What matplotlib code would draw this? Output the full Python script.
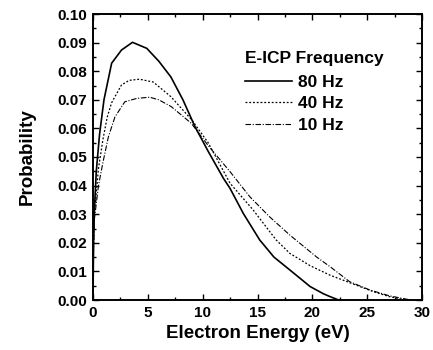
import matplotlib
matplotlib.use("Agg")
import matplotlib.pyplot as plt
from matplotlib.ticker import MultipleLocator, FormatStrFormatter

plt.rcParams['font.family'] = ['Liberation Sans', 'DejaVu Sans']

# Data
x_80 = [0, 0.05, 0.12, 0.3, 0.6, 1.0, 1.7, 2.6, 3.6, 4.9, 6.0, 7.1, 8.2, 9.3,
        10.5, 11.9, 12.5, 13.7, 15.2, 16.5, 17.95, 19.8, 21.0, 21.6, 22.4]
y_80 = [0, 0.020, 0.031, 0.045, 0.058, 0.070, 0.0828, 0.0874, 0.0901, 0.0880,
        0.0835, 0.0780, 0.0700, 0.0606, 0.0520, 0.0425, 0.0390, 0.0303, 0.0210,
        0.0150, 0.0105, 0.0047, 0.0022, 0.0012, 0.0]

x_40 = [0, 0.05, 0.12, 0.5, 0.9, 1.3, 1.7, 2.6, 3.3, 4.25, 5.5, 7.1, 9.0, 10.5,
        12.5, 14.6, 16.7, 17.95, 19.8, 21.6, 24.0, 25.5, 27.0, 28.0, 28.7]
y_40 = [0, 0.020, 0.030, 0.046, 0.056, 0.064, 0.069, 0.0752, 0.0768, 0.0772,
        0.0762, 0.0711, 0.0630, 0.0550, 0.0408, 0.0315, 0.0210, 0.0163, 0.0120,
        0.0087, 0.0052, 0.0030, 0.0012, 0.0004, 0.0]

x_10 = [0, 0.05, 0.12, 0.5, 0.9, 1.4, 2.0, 2.9, 4.0, 5.17, 6.0, 7.14, 8.96,
        10.5, 12.49, 14.3, 16.1, 17.95, 20.4, 21.6, 23.4, 25.25, 27.0, 28.3, 29.0]
y_10 = [0, 0.018, 0.028, 0.040, 0.048, 0.057, 0.064, 0.0693, 0.0705, 0.0709,
        0.0700, 0.0676, 0.0618, 0.0540, 0.0449, 0.0361, 0.0291, 0.0227, 0.0150,
        0.0117, 0.0064, 0.0035, 0.0015, 0.0005, 0.0]

labels = ['80 Hz', '40 Hz', '10 Hz']
legend_title = 'E-ICP Frequency'
x_label = 'Electron Energy (eV)'
y_label = 'Probability'

fig = plt.figure(figsize=(4.33, 3.5), dpi=100)
ax = fig.add_axes([93/433, 1 - 300/350, (422 - 93)/433, (300 - 14)/350])

ax.plot(x_80, y_80, color='black', lw=1.2, ls='-', label=labels[0])
ax.plot(x_40, y_40, color='black', lw=0.9, ls=(0, (1.5, 1.5)), label=labels[1])
ax.plot(x_10, y_10, color='black', lw=0.8, ls=(0, (5, 1.5, 1, 1.5)), label=labels[2])

ax.set_xlim(0, 30)
ax.set_ylim(0, 0.10)
ax.xaxis.set_major_locator(MultipleLocator(5))
ax.xaxis.set_minor_locator(MultipleLocator(2.5))
ax.yaxis.set_major_locator(MultipleLocator(0.01))
ax.yaxis.set_minor_locator(MultipleLocator(0.005))
ax.yaxis.set_major_formatter(FormatStrFormatter('%.2f'))

ax.tick_params(which='both', direction='in', top=True, right=True, width=1.0)
ax.tick_params(which='major', length=4.5, labelsize=11, pad=4)
ax.tick_params(which='minor', length=2.5)
for lab in ax.get_xticklabels() + ax.get_yticklabels():
    lab.set_fontweight('bold')
for s in ax.spines.values():
    s.set_linewidth(1.4)

ax.set_xlabel(x_label, fontsize=13.5, fontweight='bold', labelpad=4)
ax.set_ylabel(y_label, fontsize=13.5, fontweight='bold', labelpad=16)

leg = ax.legend(title=legend_title, loc='upper left', bbox_to_anchor=(0.462, 0.87),
                frameon=False, fontsize=12.5, title_fontsize=12.5, handlelength=2.7,
                handletextpad=0.35, labelspacing=0.38, borderpad=0, borderaxespad=0,
                alignment='left')
leg._legend_box.sep = 6
for t in leg.get_texts():
    t.set_fontweight('bold')
leg.get_title().set_fontweight('bold')

fig.savefig('out.png', dpi=100)
